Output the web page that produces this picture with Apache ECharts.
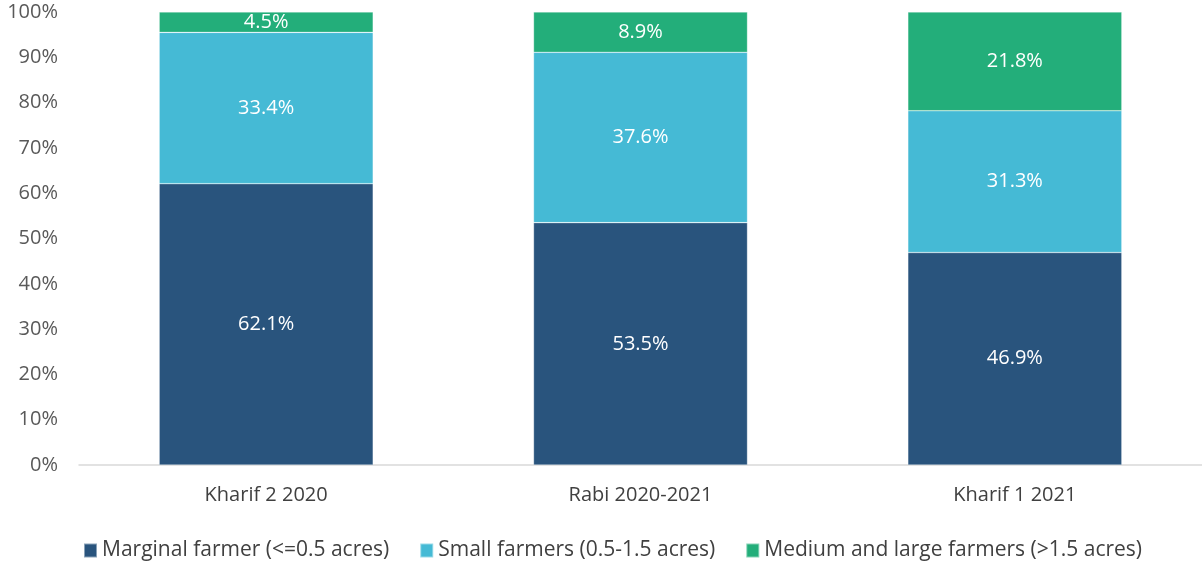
<!DOCTYPE html>
<html>
<head>
<meta charset="utf-8">
<script src="https://cdn.jsdelivr.net/npm/echarts@6/dist/echarts.min.js"></script>
<style>
  html, body { margin: 0; padding: 0; background: #fff; }
  #chart { width: 1202px; height: 563px; }
</style>
</head>
<body>
<div id="chart"></div>
<script>
// Farmer size composition by season (share of respondents, %)
const seasons = ['Kharif 2 2020', 'Rabi 2020-2021', 'Kharif 1 2021'];
const marginal = [62.1, 53.5, 46.9];
const small = [33.4, 37.6, 31.3];
const mediumLarge = [4.5, 8.9, 21.8];
const yTicks = [0, 10, 20, 30, 40, 50, 60, 70, 80, 90, 100];

const fontFamily = '"Open Sans", "Noto Sans", sans-serif';

function stackSeries(name, data, color) {
  return {
    name: name,
    type: 'bar',
    stack: 'total',
    data: data,
    barWidth: 214,
    itemStyle: { color: color, borderColor: 'rgba(255,255,255,0.45)', borderWidth: 0.6 },
    label: {
      show: true,
      position: 'inside',
      color: '#fff',
      fontFamily: fontFamily,
      fontSize: 20,
      formatter: p => p.value.toFixed(1) + '%'
    }
  };
}

const chart = echarts.init(document.getElementById('chart'), null, { renderer: 'canvas' });
chart.setOption({
  animation: false,
  grid: { left: 79, right: 0, top: 12, bottom: 98, containLabel: false },
  legend: {
    top: 535,
    left: 78,
    itemWidth: 13,
    itemHeight: 14,
    itemGap: 30,
    icon: 'rect',
    textStyle: { color: '#404040', fontFamily: fontFamily, fontSize: 21 },
    data: ['Marginal farmer (<=0.5 acres)', 'Small farmers (0.5-1.5 acres)', 'Medium and large farmers (>1.5 acres)']
  },
  xAxis: {
    type: 'category',
    data: seasons,
    axisLine: { lineStyle: { color: '#d9d9d9', width: 1.5 } },
    axisTick: { show: false },
    axisLabel: { color: '#404040', fontFamily: fontFamily, fontSize: 20, margin: 20 }
  },
  yAxis: {
    type: 'value',
    min: yTicks[0],
    max: yTicks[yTicks.length - 1],
    interval: 10,
    splitLine: { show: false },
    axisLine: { show: false },
    axisTick: { show: false },
    axisLabel: { color: '#595959', fontFamily: fontFamily, fontSize: 20, margin: 21, formatter: v => v + '%' }
  },
  series: [
    stackSeries('Marginal farmer (<=0.5 acres)', marginal, '#29547d'),
    stackSeries('Small farmers (0.5-1.5 acres)', small, '#45bad5'),
    stackSeries('Medium and large farmers (>1.5 acres)', mediumLarge, '#23ae7a')
  ]
});
</script>
</body>
</html>
